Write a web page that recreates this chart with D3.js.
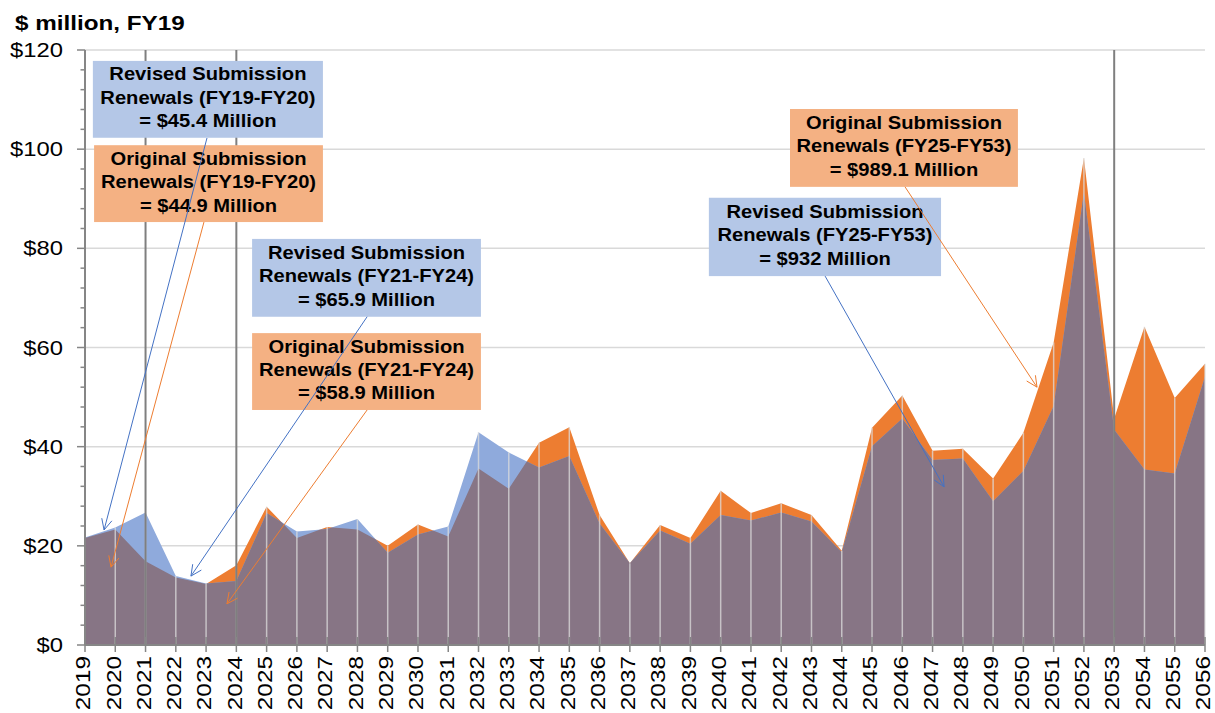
<!DOCTYPE html>
<html><head><meta charset="utf-8">
<script src="https://cdn.jsdelivr.net/npm/d3@7"></script>
<style>
body{margin:0;background:#fff}
svg{display:block}
text{font-family:Arial,"Liberation Sans",sans-serif;fill:#000}
</style>
</head><body>
<svg id="c" width="1215" height="713"></svg>
<script>
// ---------- data ----------
const years = [2019,2020,2021,2022,2023,2024,2025,2026,2027,2028,2029,2030,2031,2032,2033,2034,2035,2036,2037,2038,
  2039,2040,2041,2042,2043,2044,2045,2046,2047,2048,2049,2050,2051,2052,2053,2054,2055,2056];
const original = [21.6,23.3,16.9,13.6,12.3,16.1,27.9,21.6,23.8,23.3,20.0,24.3,21.9,35.6,31.5,40.8,43.9,26.2,16.5,24.2,
  21.6,31.1,26.6,28.6,26.2,19.0,43.8,50.3,39.2,39.6,33.6,42.8,61.0,98.2,45.7,64.2,49.8,56.7];
const revised = [21.7,23.7,26.7,13.9,12.4,12.9,26.6,22.9,23.4,25.4,18.6,22.3,23.9,42.9,38.8,35.8,38.1,24.5,16.5,23.1,
  20.4,26.2,25.1,26.7,24.9,18.7,40.1,45.7,37.3,37.6,29.0,35.1,48.2,91.2,43.4,35.4,34.6,54.1];
const yTickValues = [0,20,40,60,80,100,120];
const markerYears = [2021,2024,2053];
const annLines = [
  ["Revised Submission","Renewals (FY19-FY20)","= $45.4 Million"],
  ["Original Submission","Renewals (FY19-FY20)","= $44.9 Million"],
  ["Revised Submission","Renewals (FY21-FY24)","= $65.9 Million"],
  ["Original Submission","Renewals (FY21-FY24)","= $58.9 Million"],
  ["Original Submission","Renewals (FY25-FY53)","= $989.1 Million"],
  ["Revised Submission","Renewals (FY25-FY53)","= $932 Million"]
];
const annKind = ["rev","orig","rev","orig","orig","rev"];
// box [x0 year, x1 year, top $, bottom $]; arrow from [year,$] to [year,$]
const annBox = [
  [2019.26,2026.86,117.8,102.3],
  [2019.30,2026.86,100.8,85.3],
  [2024.52,2032.08,81.9,66.2],
  [2024.52,2032.08,62.9,47.4],
  [2042.29,2049.82,108.1,92.4],
  [2039.61,2047.28,90.2,74.4]
];
const annFrom = [[2023.03,102.25],[2022.93,85.3],[2028.32,66.2],[2028.32,47.4],[2046.09,92.4],[2043.45,74.4]];
const annTo   = [[2019.63,23.2],[2019.86,15.7],[2022.50,13.9],[2023.69,8.3],[2050.45,52.0],[2047.38,31.9]];

// ---------- layout ----------
const svg = d3.select("#c");
const L = 85, R = 1205, T = 50, B = 645;
const x = d3.scaleLinear().domain([years[0], years[years.length-1]]).range([L, R]);
const y = d3.scaleLinear().domain([0, 120]).range([B, T]);
const C = {orange:"#ED7D31", blue:"#8FAADC", overlap:"#877585", boxBlue:"#B4C7E7", boxOrange:"#F4B183",
           arrowBlue:"#4472C4", arrowOrange:"#ED7D31", grid:"#D9D9D9", axis:"#868686", marker:"#7F7F7F"};

function stext(g, px, py, str, size, k, opts={}) {
  const t = g.append("text")
    .attr("transform", `translate(${px},${py})${opts.rot?` rotate(${opts.rot})`:""} scale(${k},1)`)
    .attr("font-size", size).text(str);
  if (opts.anchor) t.attr("text-anchor", opts.anchor);
  if (opts.bold) t.attr("font-weight", "bold");
  if (opts.dy) t.attr("dy", opts.dy);
  return t;
}

// title
stext(svg, 15, 30, "$ million, FY19", 21, 1.155, {bold:true});

// horizontal gridlines
svg.append("g").selectAll("line").data(yTickValues.filter(d=>d>0)).join("line")
  .attr("x1",L).attr("x2",R).attr("y1",d=>y(d)).attr("y2",d=>y(d))
  .attr("stroke",C.grid).attr("stroke-width",1.5);

// areas
const rows = years.map((yr,i)=>({yr, o:original[i], r:revised[i]}));
const areaO = d3.area().x(d=>x(d.yr)).y0(y(0)).y1(d=>y(d.o));
const areaR = d3.area().x(d=>x(d.yr)).y0(y(0)).y1(d=>y(d.r));
svg.append("clipPath").attr("id","clipO").append("path").attr("d", areaO(rows));
svg.append("path").attr("d", areaO(rows)).attr("fill", C.orange);
svg.append("path").attr("d", areaR(rows)).attr("fill", C.blue);
svg.append("path").attr("d", areaR(rows)).attr("fill", C.overlap).attr("clip-path","url(#clipO)");

// drop lines
svg.append("g").selectAll("line").data(rows).join("line")
  .attr("x1",d=>x(d.yr)).attr("x2",d=>x(d.yr))
  .attr("y1",d=>y(Math.max(d.o,d.r))).attr("y2",y(0))
  .attr("stroke","#DCDCDC").attr("stroke-opacity",0.75).attr("stroke-width",1.5);

// marker vertical lines
svg.append("g").selectAll("line").data(markerYears).join("line")
  .attr("x1",d=>x(d)).attr("x2",d=>x(d)).attr("y1",y(120)).attr("y2",y(0))
  .attr("stroke",C.marker).attr("stroke-width",2);

// y axis
const gy = svg.append("g");
gy.append("line").attr("x1",L).attr("x2",L).attr("y1",y(120)).attr("y2",y(0)).attr("stroke",C.axis).attr("stroke-width",2);
const minor = d3.range(0,121,4).filter(v=>v%20!==0);
gy.selectAll("line.minor").data(minor).join("line").attr("class","minor")
  .attr("x1",L-4.5).attr("x2",L).attr("y1",d=>y(d)).attr("y2",d=>y(d)).attr("stroke",C.axis).attr("stroke-width",1.5);
gy.selectAll("line.major").data(yTickValues).join("line").attr("class","major")
  .attr("x1",L-8).attr("x2",L).attr("y1",d=>y(d)).attr("y2",d=>y(d)).attr("stroke",C.axis).attr("stroke-width",1.5);
yTickValues.forEach(v=>stext(gy, 63, y(v), "$"+v, 20, 1.19, {anchor:"end", dy:"0.35em"}));

// x axis
const gx = svg.append("g");
gx.selectAll("line.tick").data(years).join("line").attr("class","tick")
  .attr("x1",d=>x(d)).attr("x2",d=>x(d)).attr("y1",y(0)-8).attr("y2",y(0)+7)
  .attr("stroke",C.axis).attr("stroke-width",1.5);
gx.append("line").attr("x1",L).attr("x2",R).attr("y1",y(0)).attr("y2",y(0)).attr("stroke",C.axis).attr("stroke-width",2);
years.forEach(yr=>stext(gx, x(yr)-1, 656, String(yr), 21, 1.16, {rot:-90, anchor:"end", dy:"0.3em"}));

// annotations
const ga = svg.append("g");
annBox.forEach((b,i)=>{
  const isRev = annKind[i]==="rev";
  const x0=x(b[0]), x1=x(b[1]), t=y(b[2]), bt=y(b[3]);
  ga.append("rect").attr("x",x0).attr("y",t).attr("width",x1-x0).attr("height",bt-t)
    .attr("fill", isRev?C.boxBlue:C.boxOrange);
  const mid=(t+bt)/2, cx=(x0+x1)/2;
  annLines[i].forEach((ln,j)=>stext(ga, cx, mid+(j-1)*23.4+4.5, ln, 18.5, 1.09, {anchor:"middle", bold:true}));
});
annFrom.forEach((f,i)=>{
  const col = annKind[i]==="rev"?C.arrowBlue:C.arrowOrange;
  const fx=x(f[0]), fy=y(f[1]), tx=x(annTo[i][0]), ty=y(annTo[i][1]);
  ga.append("line").attr("x1",fx).attr("y1",fy).attr("x2",tx).attr("y2",ty).attr("stroke",col).attr("stroke-width",1);
  const ang=Math.atan2(fy-ty, fx-tx), len=12, sp=0.45;
  const p1=[tx+len*Math.cos(ang+sp), ty+len*Math.sin(ang+sp)], p2=[tx+len*Math.cos(ang-sp), ty+len*Math.sin(ang-sp)];
  ga.append("path").attr("d",`M${p1[0]},${p1[1]}L${tx},${ty}L${p2[0]},${p2[1]}`)
    .attr("fill","none").attr("stroke",col).attr("stroke-width",1);
});
</script>
</body></html>
